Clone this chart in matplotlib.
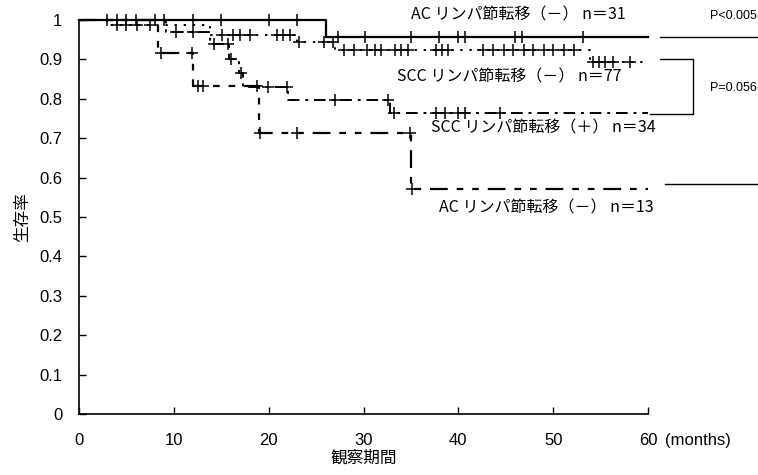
import numpy as np
import matplotlib
matplotlib.use('Agg')
import matplotlib.pyplot as plt

plt.rcParams['font.family'] = ['Noto Sans CJK JP', 'DejaVu Sans']

# 生存曲線 (ステップの時点, 生存率)
ac_neg_t = [0, 26.0]
ac_neg_s = [1.0, 0.957]
ac_neg_cens = [3.0, 4.0, 5.0, 6.0, 8.0, 9.0, 12.0, 15.0, 20.0, 23.0,
               27.3, 30.2, 35.0, 38.0, 40.0, 40.7, 46.0, 46.7, 53.1]

scc_neg_t = [0, 3.0, 13.8, 23.0, 27.0, 53.9]
scc_neg_s = [1.0, 0.987, 0.962, 0.945, 0.924, 0.893]
scc_neg_cens = [4.0, 5.0, 6.1, 7.5, 15.1, 16.2, 17.0, 18.0, 20.9, 21.5, 22.3,
                23.2, 25.8, 26.8, 27.9, 29.0, 30.4, 31.2, 31.8, 33.3, 34.0, 34.7,
                37.6, 38.3, 38.9, 42.6, 43.7, 44.8, 45.8, 46.9, 47.9, 49.0, 50.0,
                51.1, 52.2, 54.2, 54.8, 55.5, 56.3, 58.1]

scc_pos_t = [0, 9.2, 13.8, 15.8, 16.9, 17.3, 22.0, 32.8]
scc_pos_s = [1.0, 0.97, 0.94, 0.90, 0.865, 0.83, 0.797, 0.764]
scc_pos_cens = [10.2, 12.0, 14.2, 15.7, 16.0, 17.1, 19.9, 21.9, 27.0, 32.6,
                 33.2, 37.6, 38.6, 40.0, 40.7, 44.4]

ac_pos_t = [0, 8.3, 12.0, 19.0, 35.0]
ac_pos_s = [1.0, 0.917, 0.833, 0.714, 0.571]
ac_pos_cens = [8.6, 11.9, 12.6, 13.1, 18.8, 19.1, 23.0, 34.9, 35.1]

labels = ['AC リンパ節転移（－） n＝31', 'SCC リンパ節転移（－） n＝77',
          'SCC リンパ節転移（＋） n＝34', 'AC リンパ節転移（－） n＝13']
x_ticks = [0, 10, 20, 30, 40, 50, 60]
y_ticks = [0, 0.1, 0.2, 0.3, 0.4, 0.5, 0.6, 0.7, 0.8, 0.9, 1]

fig = plt.figure(figsize=(7.58, 4.75), dpi=100)
ax = fig.add_axes([79 / 758, 61 / 475, 569 / 758, 394 / 475])


def km(t, s, cens, ls, lw):
    tt = list(t) + [60]
    ss = list(s) + [s[-1]]
    ax.step(tt, ss, where='post', color='black', linestyle=ls, lw=lw, clip_on=False)
    idx = np.searchsorted(t, cens, side='right') - 1
    cy = np.array(s)[idx]
    ax.plot(cens, cy, linestyle='none', marker='+', color='black',
            markersize=8, mew=1.1, clip_on=False)


km(ac_neg_t, ac_neg_s, ac_neg_cens, '-', 1.6)
km(scc_neg_t, scc_neg_s, scc_neg_cens, (0, (1.2, 3.5)), 1.4)
km(scc_pos_t, scc_pos_s, scc_pos_cens, (0, (6, 3, 1.5, 3)), 1.4)
km(ac_pos_t, ac_pos_s, ac_pos_cens, (0, (8, 4, 3, 4, 3, 4)), 1.6)

# 右側の注記線
ax.plot([61.3, 71.6], [ac_neg_s[-1], ac_neg_s[-1]], color='black', lw=1.0, clip_on=False)
ax.plot([61.3, 64.7, 64.7, 60.2], [0.9, 0.9, 0.762, 0.762],
        color='black', lw=1.0, clip_on=False)
ax.plot([61.8, 71.6], [0.585, 0.585], color='black', lw=1.0, clip_on=False)

ax.text(46.3, 1.013, labels[0], fontsize=11.5, ha='center', va='center')
ax.text(45.4, 0.855, labels[1], fontsize=11.5, ha='center', va='center')
ax.text(49.0, 0.726, labels[2], fontsize=11.5, ha='center', va='center')
ax.text(49.3, 0.523, labels[3], fontsize=11.5, ha='center', va='center')
ax.text(71.5, 1.010, 'P<0.005', fontsize=9, ha='right', va='center',
        family=['Liberation Sans'])
ax.text(71.5, 0.827, 'P=0.056', fontsize=9, ha='right', va='center',
        family=['Liberation Sans'])
ax.text(61.8, -0.068, '(months)', fontsize=12, ha='left', va='center',
        family=['Liberation Sans'])

ax.set_xlim(0, 60)
ax.set_ylim(0, 1)
ax.set_xticks(x_ticks)
ax.set_yticks(y_ticks)
ax.set_yticklabels([f'{v:g}' for v in y_ticks])
for lab in ax.get_xticklabels() + ax.get_yticklabels():
    lab.set_family(['Liberation Sans'])
ax.tick_params(direction='in', length=5, width=1, labelsize=12)
ax.tick_params(axis='x', pad=14)
ax.tick_params(axis='y', pad=12)
ax.spines['top'].set_visible(False)
ax.spines['right'].set_visible(False)
ax.spines['left'].set_linewidth(1.2)
ax.spines['bottom'].set_linewidth(1.2)

ax.set_xlabel('観察期間', fontsize=12, labelpad=1)
ax.set_ylabel('生存率', fontsize=12, labelpad=6)

fig.savefig('out.png', dpi=100)
